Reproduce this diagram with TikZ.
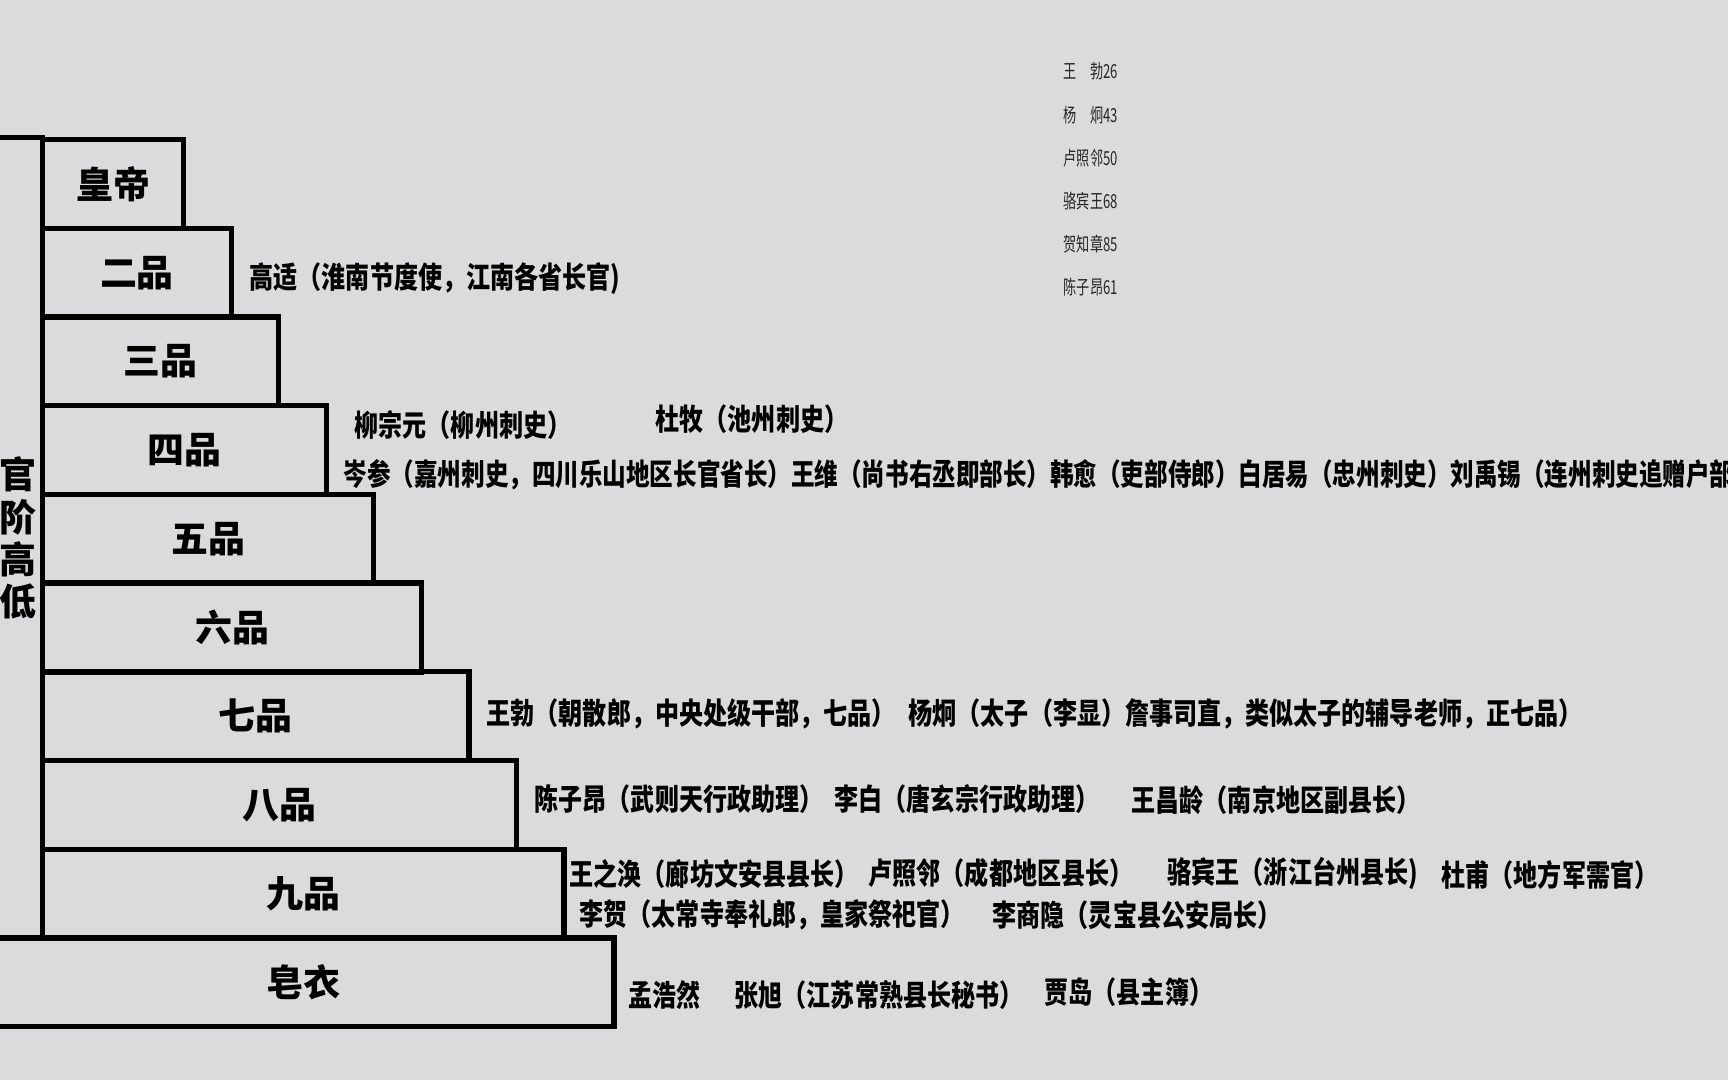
\documentclass[tikz,border=0pt]{standalone}
\usepackage{fontspec}
\usepackage{tikz}
\newfontfamily\cjk{Noto Sans CJK SC}
\newfontfamily\cjknarrow[FakeStretch=0.805]{Noto Sans CJK SC}
\newfontfamily\cjktight[FakeStretch=0.788]{Noto Sans CJK SC}
\newfontfamily\cjkthin[FakeStretch=0.68]{Noto Sans CJK SC}
\definecolor{paper}{RGB}{219,219,221}
\tikzset{
  rung/.style={draw, line width=1.5pt, anchor=north west, inner sep=0pt,
    minimum height=8.87mm, font=\cjk\bfseries\fontsize{10.5}{12}\selectfont},
  who/.style={anchor=west, inner sep=0pt, font=\cjknarrow\bfseries\fontsize{8.5}{10}\selectfont},
  age/.style={anchor=west, inner sep=0pt, text=black!85, font=\cjkthin\fontsize{5.5}{6.5}\selectfont},
}

\begin{document}
\begin{tikzpicture}[x=0.01cm, y=-0.01cm]
    \useasboundingbox (0,0) rectangle (1728,1080);
    \clip (0,0) rectangle (1728,1080);
    \fill[paper] (0,0) rectangle (1728,1080);
    % the ladder of ranks
    \node[rung, minimum width=5.0mm, minimum height=80.03mm, align=center] (rank) at (-10,135) {官\\阶\\高\\低};
    \node[rung, minimum width=14.1mm] (emperor) at (40,137) {皇帝};
    \node[rung, minimum width=18.85mm] (g2) at (40,225.7) {二品};
    \node[rung, minimum width=23.6mm] (g3) at (40,314.4) {三品};
    \node[rung, minimum width=28.35mm] (g4) at (40,403.1) {四品};
    \node[rung, minimum width=33.1mm] (g5) at (40,491.8) {五品};
    \node[rung, minimum width=37.85mm] (g6) at (40,580.5) {六品};
    \node[rung, minimum width=42.6mm] (g7) at (40,669.2) {七品};
    \node[rung, minimum width=47.35mm] (g8) at (40,757.9) {八品};
    \node[rung, minimum width=52.1mm] (g9) at (40,846.6) {九品};
    \node[rung, minimum width=62.1mm] (commoner) at (-10,935.3) {皂衣};
    % poets by rank
    \node[who] (gaoshi) at (249,279) {高适（淮南节度使，江南各省长官)};
    \node[who] (liuzongyuan) at (354,425) {柳宗元（柳州刺史）};
    \node[who] (dumu) at (655,419) {杜牧（池州刺史）};
    \node[who, font=\cjktight\bfseries\fontsize{8.5}{10}\selectfont] (censhen) at (343,475) {岑参（嘉州刺史，四川乐山地区长官省长）王维（尚书右丞即部长）韩愈（吏部侍郎）白居易（忠州刺史）刘禹锡（连州刺史追赠户部};
    \node[who] (wangbo) at (486,714) {王勃（朝散郎，中央处级干部，七品）};
    \node[who] (yangjiong) at (908,714) {杨炯（太子（李显）詹事司直，类似太子的辅导老师，正七品）};
    \node[who] (chenziang) at (534,799) {陈子昂（武则天行政助理）};
    \node[who] (libai) at (834,799) {李白（唐玄宗行政助理）};
    \node[who] (wangchangling) at (1131,800) {王昌龄（南京地区副县长）};
    \node[who] (wangzhihuan) at (569,874) {王之涣（廊坊文安县县长）};
    \node[who] (luzhaolin) at (868,873) {卢照邻（成都地区县长）};
    \node[who] (luobinwang) at (1167,873) {骆宾王（浙江台州县长)};
    \node[who] (dufu) at (1441,875) {杜甫（地方军需官）};
    \node[who] (lihe) at (579,915) {李贺（太常寺奉礼郎，皇家祭祀官）};
    \node[who] (lishangyin) at (992,915) {李商隐（灵宝县公安局长）};
    \node[who] (menghaoran) at (628,995) {孟浩然};
    \node[who] (zhangxu) at (734,995) {张旭（江苏常熟县长秘书）};
    \node[who] (jiadao) at (1044,992) {贾岛（县主簿）};
    % ages
    \node[age] (ageWang) at (1063,71) {王　勃26};
    \node[age] (ageYang) at (1063,115) {杨　炯43};
    \node[age] (ageLu) at (1063,158) {卢照邻50};
    \node[age] (ageLuo) at (1063,201) {骆宾王68};
    \node[age] (ageHe) at (1063,244) {贺知章85};
    \node[age] (ageChen) at (1063,287) {陈子昂61};
\end{tikzpicture}
\end{document}
